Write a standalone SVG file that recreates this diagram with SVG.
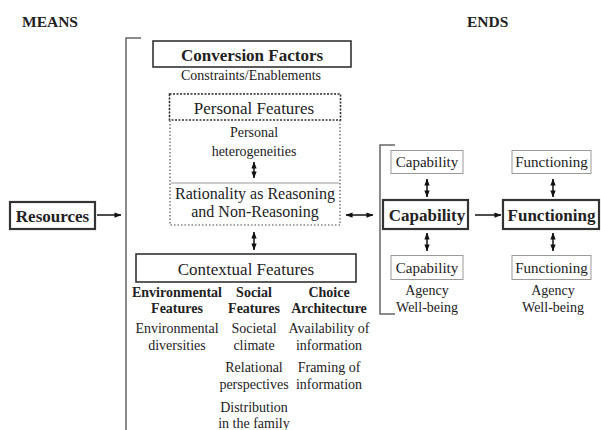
<svg xmlns="http://www.w3.org/2000/svg" width="601" height="430" viewBox="0 0 601 430">
<defs>
<marker id="ah" viewBox="0 0 8 6" refX="7.5" refY="3" markerWidth="7" markerHeight="6" markerUnits="userSpaceOnUse" orient="auto-start-reverse">
<path d="M0,0 L8,3 L0,6 z" fill="#111"/>
</marker>
<style>
text{font-family:"Liberation Serif","Times New Roman",serif;fill:#222;text-anchor:middle}
.b{font-weight:bold}
.h{font-size:15.5px;font-weight:bold;text-anchor:start}
.t14{font-size:14px}
.t15{font-size:15px}
.t16{font-size:16px}
.t17{font-size:17px}
.box{fill:#fff;stroke:#333;stroke-width:1.6}
.bold{fill:#fff;stroke:#333;stroke-width:2.2}
.thin{fill:#fff;stroke:#999;stroke-width:1}
.brk{fill:none;stroke:#666;stroke-width:1.5}
.c{stroke:#111;stroke-width:1.5;fill:none}
</style>
</defs>
<rect width="601" height="430" fill="#fff"/>
<text class="h" x="22" y="27">MEANS</text>
<text class="h" x="467" y="27">ENDS</text>
<g id="bracket-left"><path class="brk" d="M141,38 H126 V430"/></g>
<g id="bracket-right"><path class="brk" d="M395,145 H380 V314 H395"/></g>
<g id="resources">
<rect class="bold" x="10" y="202" width="85" height="27"/>
<text class="t17 b" x="52.5" y="222">Resources</text>
</g>
<g id="conversion-factors">
<rect class="box" x="153" y="41" width="198" height="26"/>
<text class="t17 b" x="252" y="61">Conversion Factors</text>
<text class="t14" x="251" y="80">Constraints/Enablements</text>
</g>
<g id="personal-outer">
<rect x="170" y="94" width="170" height="131" fill="none" stroke="#444" stroke-width="1.1" stroke-dasharray="1.5,2"/>
</g>
<g id="personal-features">
<rect x="169.5" y="94" width="171" height="26" fill="#fff" stroke="#333" stroke-width="1.6" stroke-dasharray="2,1.5"/>
<text class="t17" x="254" y="114">Personal Features</text>
<text class="t14" x="254" y="137">Personal</text>
<text class="t14" x="254" y="156">heterogeneities</text>
</g>
<g id="rationality">
<line x1="171" y1="183" x2="339" y2="183" stroke="#999" stroke-width="1"/>
<text class="t16" x="255" y="199">Rationality as Reasoning</text>
<text class="t16" x="255" y="217">and Non-Reasoning</text>
</g>
<g id="contextual-features">
<rect class="box" x="136" y="254" width="220" height="28"/>
<text class="t17" x="246" y="275">Contextual Features</text>
</g>
<g id="environmental">
<text class="t14 b" x="177" y="297">Environmental</text>
<text class="t14 b" x="177" y="313">Features</text>
<text class="t14" x="177" y="333">Environmental</text>
<text class="t14" x="177" y="350">diversities</text>
</g>
<g id="social">
<text class="t14 b" x="254" y="297">Social</text>
<text class="t14 b" x="254" y="313">Features</text>
<text class="t14" x="254" y="333">Societal</text>
<text class="t14" x="254" y="350">climate</text>
<text class="t14" x="254" y="372">Relational</text>
<text class="t14" x="254" y="389">perspectives</text>
<text class="t14" x="254" y="412">Distribution</text>
<text class="t14" x="254" y="428">in the family</text>
</g>
<g id="choice">
<text class="t14 b" x="329" y="297">Choice</text>
<text class="t14 b" x="329" y="313">Architecture</text>
<text class="t14" x="329" y="333">Availability of</text>
<text class="t14" x="329" y="350">information</text>
<text class="t14" x="329" y="372">Framing of</text>
<text class="t14" x="329" y="389">information</text>
</g>
<g id="capability-top">
<rect class="thin" x="391" y="150.5" width="72" height="23"/>
<text class="t15" x="427" y="167">Capability</text>
</g>
<g id="capability">
<rect class="bold" x="383" y="200" width="85" height="29"/>
<text class="t17 b" x="427" y="221">Capability</text>
</g>
<g id="capability-bottom">
<rect class="thin" x="391" y="255.5" width="72" height="24"/>
<text class="t15" x="427" y="273">Capability</text>
<text class="t14" x="427" y="295">Agency</text>
<text class="t14" x="427" y="312">Well-being</text>
</g>
<g id="functioning-top">
<rect class="thin" x="512" y="150.5" width="79" height="23"/>
<text class="t15" x="551.5" y="167">Functioning</text>
</g>
<g id="functioning">
<rect class="bold" x="503" y="200" width="96" height="29"/>
<text class="t17 b" x="551.5" y="221">Functioning</text>
</g>
<g id="functioning-bottom">
<rect class="thin" x="512" y="255.5" width="79" height="24"/>
<text class="t15" x="551.5" y="273">Functioning</text>
<text class="t14" x="553" y="295">Agency</text>
<text class="t14" x="553" y="312">Well-being</text>
</g>
<g id="connectors">
<line class="c" x1="97" y1="215" x2="121" y2="215" marker-end="url(#ah)"/>
<line class="c" x1="254" y1="162" x2="254" y2="178" marker-start="url(#ah)" marker-end="url(#ah)"/>
<line class="c" x1="254" y1="232" x2="254" y2="250" marker-start="url(#ah)" marker-end="url(#ah)"/>
<line class="c" x1="346" y1="215" x2="373" y2="215" marker-start="url(#ah)" marker-end="url(#ah)"/>
<line class="c" x1="427" y1="179" x2="427" y2="197" marker-start="url(#ah)" marker-end="url(#ah)"/>
<line class="c" x1="427" y1="233" x2="427" y2="251" marker-start="url(#ah)" marker-end="url(#ah)"/>
<line class="c" x1="475" y1="215" x2="501" y2="215" marker-end="url(#ah)"/>
<line class="c" x1="553" y1="179" x2="553" y2="197" marker-start="url(#ah)" marker-end="url(#ah)"/>
<line class="c" x1="553" y1="233" x2="553" y2="251" marker-start="url(#ah)" marker-end="url(#ah)"/>
</g>
</svg>
